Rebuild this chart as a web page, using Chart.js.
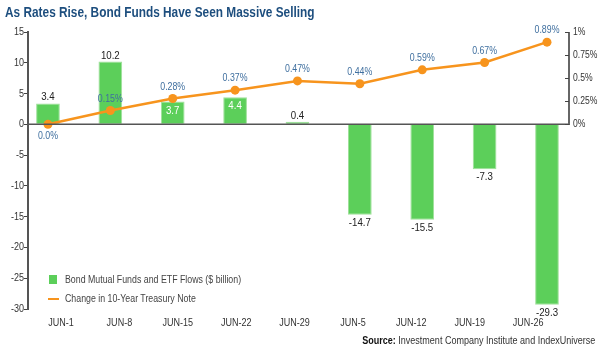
<!DOCTYPE html>
<html>
<head>
<meta charset="utf-8">
<script src="https://cdn.jsdelivr.net/npm/chart.js@4.4.1/dist/chart.umd.min.js"></script>
<style>
  body { margin: 0; background: #fff; }
  #wrap { position: relative; width: 600px; height: 350px; font-family: "Liberation Sans", Arial, sans-serif; }
  #titulo { position: absolute; left: 5px; top: 3px; font-size: 15px; font-weight: bold; color: #1d4e7e; white-space: nowrap; transform: scaleX(0.79); transform-origin: left top; }
  #leyenda { position: absolute; left: 48px; top: 270px; font-size: 11px; color: #444; line-height: 19px; }
  #leyenda .item { position: relative; padding-left: 17px; white-space: nowrap; }
  #leyenda .txt { display: inline-block; transform: scaleX(0.8); transform-origin: left center; }
  #leyenda .sq { position: absolute; left: 1px; top: 5px; width: 8px; height: 9px; background: #5ccf5a; }
  #leyenda .ln { position: absolute; left: 0; top: 9px; width: 11px; height: 2px; background: #f7941d; }
  #fuente { position: absolute; right: 5px; top: 334px; font-size: 11px; color: #333; white-space: nowrap; transform: scaleX(0.82); transform-origin: right top; }
  #fuente b { color: #111; }
</style>
</head>
<body>
<div id="wrap">
  <canvas id="grafico" width="600" height="350"></canvas>
  <div id="titulo">As Rates Rise, Bond Funds Have Seen Massive Selling</div>
  <div id="leyenda">
    <div class="item"><span class="sq"></span><span class="txt">Bond Mutual Funds and ETF Flows ($ billion)</span></div>
    <div class="item"><span class="ln"></span><span class="txt">Change in 10-Year Treasury Note</span></div>
  </div>
  <div id="fuente"><b>Source:</b> Investment Company Institute and IndexUniverse</div>
</div>
<script>
// --- datos ---
const semanas = ['JUN-1', 'JUN-8', 'JUN-15', 'JUN-22', 'JUN-29', 'JUN-5', 'JUN-12', 'JUN-19', 'JUN-26'];
const flujos = [3.4, 10.2, 3.7, 4.4, 0.4, -14.7, -15.5, -7.3, -29.3];
const cambioTasa = [0.0, 0.15, 0.28, 0.37, 0.47, 0.44, 0.59, 0.67, 0.89];
const ticksFlujo = [-30, -25, -20, -15, -10, -5, 0, 5, 10, 15];
const ticksTasa = [0, 0.25, 0.5, 0.75, 1];

// etiquetas de barra que van dentro (blancas)
const etiquetasDentro = [2, 3];

const FONT = '"Liberation Sans", Arial, sans-serif';
Chart.defaults.font.family = FONT;

const VERDE = '#5ccf5a';
const NARANJA = '#f7941d';

// texto angosto (la fuente original es condensada)
function texto(ctx, str, x, y, align, escala) {
  ctx.save();
  ctx.translate(x, y);
  ctx.scale(escala, 1);
  ctx.textAlign = align;
  ctx.fillText(str, 0, 0);
  ctx.restore();
}

// ejes, cero y etiquetas de ejes dibujados a mano
const ejesPlugin = {
  id: 'ejes',
  afterDatasetsDraw(chart) {
    const { ctx, chartArea, scales } = chart;
    const y0 = scales.y.getPixelForValue(0);
    ctx.save();
    // linea del cero
    ctx.strokeStyle = '#555';
    ctx.lineWidth = 1.5;
    ctx.beginPath();
    ctx.moveTo(chartArea.left, y0);
    ctx.lineTo(chartArea.right + 1, y0);
    ctx.stroke();
    // eje derecho (solo 0% a 1%)
    const xr = chartArea.right;
    ctx.strokeStyle = '#666';
    ctx.lineWidth = 2;
    ctx.beginPath();
    ctx.moveTo(xr, scales.y2.getPixelForValue(0));
    ctx.lineTo(xr, scales.y2.getPixelForValue(1));
    ctx.stroke();
    ctx.lineWidth = 1;
    ctx.strokeStyle = '#444';
    ticksTasa.forEach((t) => {
      const yp = Math.round(scales.y2.getPixelForValue(t)) + 0.5;
      ctx.beginPath();
      ctx.moveTo(xr - 4, yp);
      ctx.lineTo(xr, yp);
      ctx.stroke();
    });

    // etiquetas de ejes
    ctx.font = '11px ' + FONT;
    ctx.textBaseline = 'middle';
    ctx.fillStyle = '#333';
    ticksFlujo.forEach((t) => {
      texto(ctx, String(t), chartArea.left - 4, scales.y.getPixelForValue(t), 'right', 0.82);
    });
    ticksTasa.forEach((t) => {
      texto(ctx, t + '%', xr + 4, scales.y2.getPixelForValue(t), 'left', 0.78);
    });
    semanas.forEach((s, i) => {
      texto(ctx, s, scales.xl.getPixelForValue(i), 323, 'center', 0.82);
    });
    ctx.restore();
  },
};

// etiquetas de valores
const etiquetasPlugin = {
  id: 'etiquetas',
  afterDatasetsDraw(chart) {
    const { ctx } = chart;
    ctx.save();
    ctx.font = '11px ' + FONT;
    ctx.textBaseline = 'middle';

    const barras = chart.getDatasetMeta(1).data;
    barras.forEach((el, i) => {
      const v = flujos[i];
      let y;
      if (v >= 0) {
        if (etiquetasDentro.includes(i)) {
          ctx.fillStyle = '#fff';
          y = el.y + 9;
        } else {
          ctx.fillStyle = '#222';
          y = el.y - 6;
        }
      } else {
        ctx.fillStyle = '#222';
        y = el.y + 8;
      }
      texto(ctx, v.toFixed(1), el.x, y, 'center', 0.88);
    });

    const puntos = chart.getDatasetMeta(0).data;
    ctx.fillStyle = '#3f6f9f';
    puntos.forEach((el, i) => {
      const v = cambioTasa[i];
      const y = v === 0 ? el.y + 12 : el.y - 12;
      const s = v === 0 ? '0.0%' : v.toFixed(2) + '%';
      texto(ctx, s, el.x, y, 'center', 0.8);
    });
    ctx.restore();
  },
};

new Chart(document.getElementById('grafico'), {
  data: {
    datasets: [
      {
        type: 'line',
        label: 'Change in 10-Year Treasury Note',
        data: cambioTasa.map((v, i) => ({ x: i, y: v })),
        xAxisID: 'x',
        yAxisID: 'y2',
        borderColor: NARANJA,
        backgroundColor: NARANJA,
        borderWidth: 2.5,
        pointRadius: 4.5,
        pointBorderWidth: 0,
        tension: 0,
      },
      {
        type: 'bar',
        label: 'Bond Mutual Funds and ETF Flows ($ billion)',
        data: flujos.map((v, i) => ({ x: i, y: v })),
        xAxisID: 'x',
        yAxisID: 'y',
        backgroundColor: VERDE,
        borderColor: '#9fe09a',
        borderWidth: 1,
        categoryPercentage: 1,
        barPercentage: 0.38,
      },
    ],
  },
  options: {
    responsive: false,
    animation: false,
    layout: { padding: { top: 32, left: 0, right: 0, bottom: 0 } },
    plugins: {
      legend: { display: false },
      tooltip: { enabled: false },
    },
    scales: {
      x: {
        type: 'linear',
        display: false,
        offset: false,
        min: -0.32,
        max: 8.353,
      },
      xl: {
        type: 'linear',
        position: 'bottom',
        offset: false,
        min: -0.565,
        max: 8.7,
        afterBuildTicks(axis) {
          axis.ticks = semanas.map((_, i) => ({ value: i }));
        },
        afterFit(axis) { axis.height = 41; },
        grid: { display: false, drawTicks: false },
        border: { display: false },
        ticks: { display: false },
      },
      y: {
        position: 'left',
        min: -30,
        max: 15,
        afterBuildTicks(axis) {
          axis.ticks = ticksFlujo.map((v) => ({ value: v }));
        },
        afterFit(axis) { axis.width = 28; },
        grid: { drawOnChartArea: false, tickLength: 4, color: '#444' },
        border: { display: true, color: '#555', width: 2 },
        ticks: { display: false },
      },
      y2: {
        position: 'right',
        min: -2,
        max: 1,
        afterBuildTicks(axis) {
          axis.ticks = ticksTasa.map((v) => ({ value: v }));
        },
        afterFit(axis) { axis.width = 31; },
        grid: { display: false, drawTicks: false },
        border: { display: false },
        ticks: { display: false },
      },
    },
  },
  plugins: [ejesPlugin, etiquetasPlugin],
});
</script>
</body>
</html>
